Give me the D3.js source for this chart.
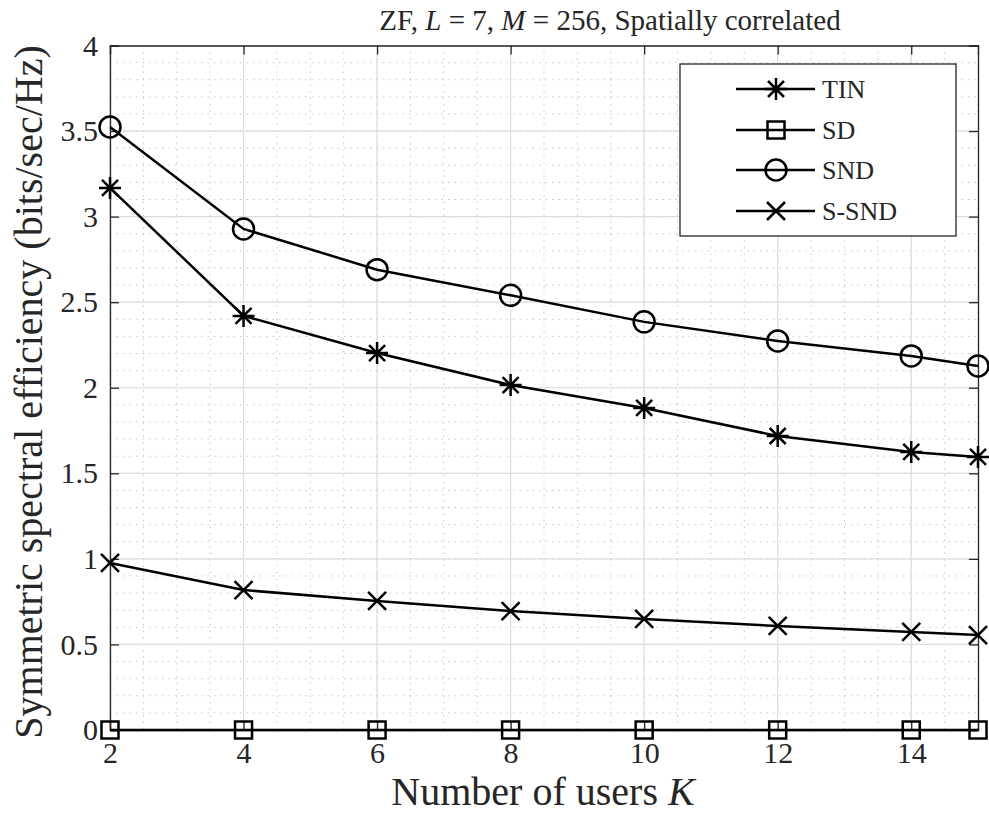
<!DOCTYPE html>
<html><head><meta charset="utf-8">
<script src="https://cdn.jsdelivr.net/npm/d3@7"></script>
<style>body{margin:0;background:#fff}text{font-family:"Liberation Serif","DejaVu Serif",serif;fill:#262626}.tick text{font-size:30px !important}</style>
</head><body><svg id="c" width="989" height="817"></svg>
<script>
const users = [2, 4, 6, 8, 10, 12, 14, 15];
const tin = [3.168, 2.42, 2.203, 2.016, 1.882, 1.718, 1.625, 1.596];
const sd = [0, 0, 0, 0, 0, 0, 0, 0];
const snd = [3.524, 2.928, 2.69, 2.54, 2.385, 2.273, 2.186, 2.127];
const ssnd = [0.976, 0.818, 0.754, 0.695, 0.649, 0.608, 0.573, 0.555];
const seriesNames = ["TIN", "SD", "SND", "S-SND"];
const seriesMarkers = ["asterisk", "square", "circle", "cross"];
const xTicks = [2, 4, 6, 8, 10, 12, 14];
const yTicks = [0, 0.5, 1, 1.5, 2, 2.5, 3, 3.5, 4];
const yTickLabels = ["0", "0.5", "1", "1.5", "2", "2.5", "3", "3.5", "4"];

const svg = d3.select("#c");
const L = 110, R = 978, T = 45.5, B = 730;
const x = d3.scaleLinear().domain([2, 15]).range([L, R]);
const y = d3.scaleLinear().domain([0, 4]).range([B, T]);

// minor grid
const g = svg.append("g");
const xMinor = d3.range(2, 15.001, 0.5);
const yMinor = d3.range(0, 4.001, 0.1);
g.selectAll(".xm").data(xMinor).enter().append("line")
  .attr("x1", d => x(d)).attr("x2", d => x(d)).attr("y1", T).attr("y2", B)
  .attr("stroke", "#c8c8c8").attr("stroke-width", 1).attr("stroke-dasharray", "1.5,5");
g.selectAll(".ym").data(yMinor).enter().append("line")
  .attr("y1", d => y(d)).attr("y2", d => y(d)).attr("x1", L).attr("x2", R)
  .attr("stroke", "#c8c8c8").attr("stroke-width", 1).attr("stroke-dasharray", "1.5,5");
// major grid
g.selectAll(".xM").data(xTicks).enter().append("line")
  .attr("x1", d => x(d)).attr("x2", d => x(d)).attr("y1", T).attr("y2", B)
  .attr("stroke", "#dcdcdc").attr("stroke-width", 1.2);
g.selectAll(".yM").data(yTicks).enter().append("line")
  .attr("y1", d => y(d)).attr("y2", d => y(d)).attr("x1", L).attr("x2", R)
  .attr("stroke", "#dcdcdc").attr("stroke-width", 1.2);

// axes
const ax = svg.append("g");
ax.append("g").attr("transform", `translate(0,${B})`)
  .call(d3.axisBottom(x).tickValues(xTicks).tickSize(-9).tickPadding(12).tickFormat(d3.format("d")));
ax.append("g").attr("transform", `translate(0,${T})`)
  .call(d3.axisTop(x).tickValues(xTicks).tickSize(-9).tickFormat(""));
ax.append("g").attr("transform", `translate(${L},0)`)
  .call(d3.axisLeft(y).tickValues(yTicks).tickSize(-9).tickPadding(12).tickFormat((d, i) => yTickLabels[i]));
ax.append("g").attr("transform", `translate(${R},0)`)
  .call(d3.axisRight(y).tickValues(yTicks).tickSize(-9).tickFormat(""));
ax.selectAll("g").attr("font-size", 30).attr("font-family", "'Liberation Serif',serif");
ax.selectAll(".domain").attr("stroke", "#262626").attr("stroke-width", 1.3);
ax.selectAll(".tick line").attr("stroke", "#262626").attr("stroke-width", 1.3);
ax.selectAll(".tick text").attr("font-size", 30).style("font-size", "30px").attr("fill", "#262626");

// series
const data = [tin, sd, snd, ssnd];
const line = d3.line().x((d, i) => x(users[i])).y(d => y(d));
function marker(sel, type, cx, cy) {
  const s = sel.append("g").attr("transform", `translate(${cx},${cy})`)
    .attr("stroke", "#000").attr("stroke-width", 2.5).attr("fill", "none");
  if (type === "circle") s.append("circle").attr("r", 10.5);
  else if (type === "square") s.append("rect").attr("x", -8.5).attr("y", -8.5).attr("width", 17).attr("height", 17);
  else if (type === "cross") {
    s.append("path").attr("d", "M-9,-9L9,9M-9,9L9,-9");
  } else if (type === "asterisk") {
    s.append("path").attr("d", "M-11,0L11,0M0,-11L0,11M-8,-8L8,8M-8,8L8,-8");
  }
}
const sg = svg.append("g");
data.forEach((vals, si) => {
  sg.append("path").attr("d", line(vals)).attr("fill", "none").attr("stroke", "#000").attr("stroke-width", 2.5);
  vals.forEach((v, i) => marker(sg, seriesMarkers[si], x(users[i]), y(v)));
});

// legend
const lg = svg.append("g");
lg.append("rect").attr("x", 680).attr("y", 64).attr("width", 276).attr("height", 172)
  .attr("fill", "#fff").attr("stroke", "#262626").attr("stroke-width", 1.3);
const legY = [89, 130, 170, 211];
seriesNames.forEach((n, i) => {
  lg.append("line").attr("x1", 736).attr("x2", 815).attr("y1", legY[i]).attr("y2", legY[i])
    .attr("stroke", "#000").attr("stroke-width", 2.5);
  marker(lg, seriesMarkers[i], 776, legY[i]);
  lg.append("text").attr("x", 822).attr("y", legY[i]).attr("dy", "0.35em")
    .style("font-size", "26px").text(n);
});

// title
const title = svg.append("text").attr("x", 610).attr("y", 30).attr("text-anchor", "middle").style("font-size", "29px");
title.append("tspan").text("ZF, ");
title.append("tspan").style("font-style", "italic").text("L");
title.append("tspan").text(" = 7, ");
title.append("tspan").style("font-style", "italic").text("M");
title.append("tspan").text(" = 256, Spatially correlated");

// x label
const xl = svg.append("text").attr("x", 543).attr("y", 805).attr("text-anchor", "middle").style("font-size", "40px");
xl.append("tspan").text("Number of users ");
xl.append("tspan").style("font-style", "italic").text("K");

// y label
svg.append("text").attr("transform", "translate(42,392) rotate(-90)").attr("text-anchor", "middle")
  .style("font-size", "40px").text("Symmetric spectral efficiency (bits/sec/Hz)");
</script></body></html>
